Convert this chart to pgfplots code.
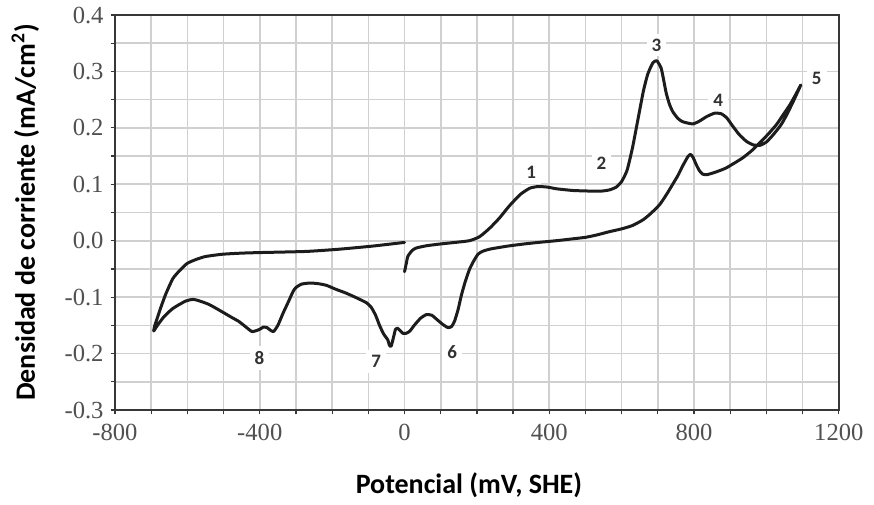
\documentclass[border=0pt]{standalone}
\usepackage{pgfplots}
\pgfplotsset{compat=1.18}
\usepackage{fontspec}
\setmainfont{Liberation Serif}
\newfontfamily\lblfont{Carlito}
\definecolor{gridc}{RGB}{208,208,208}
\definecolor{tickc}{RGB}{80,80,80}
\definecolor{axc}{RGB}{55,55,55}
\definecolor{curvec}{RGB}{28,28,28}
\definecolor{numc}{RGB}{50,50,50}
\begin{document}
\begin{tikzpicture}
\path (0,0) rectangle (437pt,249.5pt);
\begin{axis}[
  at={(57.5pt,44.5pt)}, anchor=south west,
  scale only axis, width=361.9pt, height=197.5pt,
  xmin=-800, xmax=1200, ymin=-0.3, ymax=0.4,
  xtick={-800,-400,0,400,800,1200},
  minor xtick={-700,-600,-500,-300,-200,-100,100,200,300,500,600,700,900,1000,1100},
  ytick={-0.3,-0.2,-0.1,0,0.1,0.2,0.3,0.4},
  minor ytick={-0.25,-0.15,-0.05,0.05,0.15,0.25,0.35},
  xmajorgrids, xminorgrids, ymajorgrids, yminorgrids,
  grid style={gridc, line width=0.8pt},
  major grid style={gridc, line width=0.8pt},
  minor grid style={gridc, line width=0.8pt},
  tick pos=left, tick align=outside,
  major tick length=2.2pt, minor tick length=2.2pt,
  tick style={axc, line width=0.6pt},
  axis line style={axc, line width=0.8pt},
  /pgf/number format/assume math mode=true,
  /pgf/number format/1000 sep={},
  tick label style={font=\fontsize{12.3}{14}\selectfont, text=tickc},
  xticklabel style={yshift=-1.5pt},
  yticklabel style={/pgf/number format/fixed, /pgf/number format/fixed zerofill, /pgf/number format/precision=1},
  xlabel={Potencial (mV, SHE)},
  ylabel={Densidad de corriente (mA/cm\textsuperscript{2})},
  label style={font=\lblfont\bfseries\fontsize{14}{16}\selectfont, text=black},
  xlabel style={at={(axis description cs:0.489,-0.19)}, anchor=center},
  ylabel style={at={(axis description cs:-0.124,0.5)}, anchor=center},
  clip=false,
]
\addplot[curvec, line width=1.5pt, smooth, tension=0.35, line join=round, line cap=round] coordinates {
(0,-0.055) (5,-0.040) (9,-0.028) (20,-0.018) (32,-0.013) (60,-0.009) (96,-0.006) (140,-0.003)
(179,0.000) (207,0.007) (235,0.022) (262,0.040) (290,0.062) (320,0.082) (346,0.093) (369,0.096)
(395,0.095) (420,0.092) (466,0.089) (512,0.088) (545,0.088) (566,0.090) (585,0.095) (600,0.105)
(615,0.125) (630,0.165) (645,0.215) (660,0.265) (672,0.295) (686,0.315) (697,0.319) (709,0.306)
(716,0.285) (723,0.262) (732,0.242) (741,0.229) (755,0.217) (768,0.211) (796,0.207) (815,0.212)
(835,0.220) (857,0.226) (875,0.225) (890,0.218) (907,0.203) (925,0.188) (945,0.176) (963,0.170)
(982,0.169) (1000,0.175) (1019,0.188) (1040,0.205) (1056,0.223) (1075,0.248) (1095,0.276)
(1080,0.258) (1065,0.241) (1045,0.222) (1028,0.206) (1005,0.189) (982,0.174) (960,0.160) (935,0.147)
(910,0.137) (889,0.129) (870,0.124) (852,0.120) (835,0.117) (824,0.118) (815,0.124) (806,0.135)
(797,0.148) (790,0.153) (783,0.149) (775,0.140) (769,0.133) (755,0.115) (741,0.100) (725,0.083)
(705,0.064) (680,0.048) (659,0.037) (630,0.027) (600,0.021) (566,0.016) (530,0.010) (500,0.006)
(474,0.004) (419,0.000) (370,-0.003) (327,-0.006) (280,-0.010) (235,-0.015) (215,-0.019) (203,-0.024)
(192,-0.035) (180,-0.050) (168,-0.072) (157,-0.097) (148,-0.122) (138,-0.143) (130,-0.152) (120,-0.154)
(105,-0.148) (92,-0.141) (75,-0.132) (60,-0.131) (45,-0.137) (28,-0.149) (15,-0.160) (5,-0.164)
(-5,-0.164) (-14,-0.158) (-20,-0.155) (-25,-0.157) (-30,-0.170) (-37,-0.187) (-42,-0.185) (-46,-0.176)
(-58,-0.165) (-69,-0.150) (-80,-0.132) (-92,-0.118) (-105,-0.110) (-130,-0.102) (-161,-0.093) (-190,-0.086)
(-216,-0.079) (-240,-0.076) (-262,-0.075) (-285,-0.077) (-300,-0.083) (-308,-0.090) (-320,-0.107) (-336,-0.129)
(-350,-0.150) (-362,-0.161) (-372,-0.158) (-380,-0.154) (-390,-0.153) (-400,-0.157) (-421,-0.161) (-440,-0.152)
(-458,-0.143) (-480,-0.135) (-504,-0.126) (-540,-0.113) (-570,-0.106) (-585,-0.104) (-605,-0.107) (-640,-0.120)
(-665,-0.135) (-685,-0.152) (-693,-0.160)
(-690,-0.150) (-682,-0.135) (-676,-0.123) (-660,-0.095) (-640,-0.067) (-620,-0.052) (-600,-0.040) (-575,-0.033)
(-550,-0.028) (-504,-0.024) (-450,-0.022) (-400,-0.021) (-272,-0.019) (-180,-0.015) (-88,-0.0095) (0,-0.003)
};
\begin{scope}[every node/.style={font=\lblfont\bfseries\fontsize{9.5}{11}\selectfont, text=numc, fill=white, inner sep=2.5pt}]
\node at (axis cs:350,0.1205) {1};
\node at (axis cs:544,0.137) {2};
\node at (axis cs:696,0.347) {3};
\node at (axis cs:867,0.249) {4};
\node at (axis cs:1139,0.288) {5};
\node at (axis cs:132,-0.198) {6};
\node at (axis cs:-78,-0.214) {7};
\node at (axis cs:-401,-0.208) {8};
\end{scope}
\end{axis}
\end{tikzpicture}
\end{document}
